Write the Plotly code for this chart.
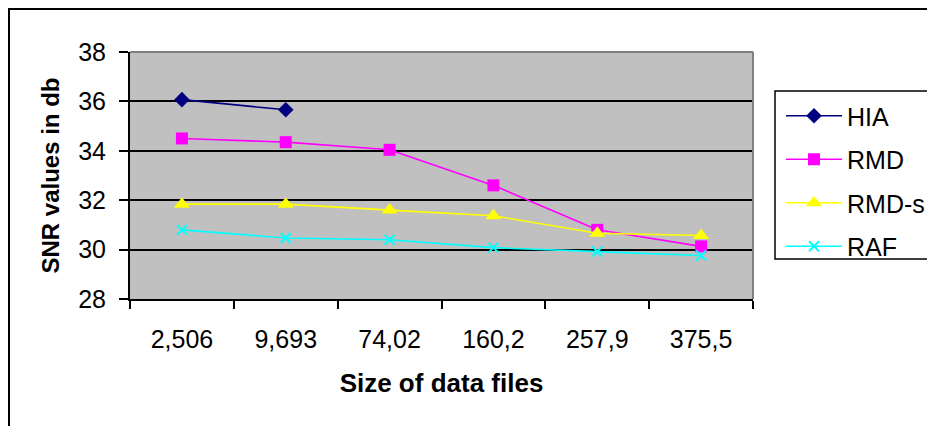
import plotly.graph_objects as go

categories = ["2,506", "9,693", "74,02", "160,2", "257,9", "375,5"]
hia = [36.07, 35.66, None, None, None, None]
rmd = [34.5, 34.35, 34.04, 32.6, 30.8, 30.13]
rmd_s = [31.84, 31.84, 31.6, 31.37, 30.66, 30.57]
raf = [30.8, 30.47, 30.4, 30.08, 29.92, 29.76]

W, H = 927, 426
L, R, T, B = 130, 753, 52, 299

def px(xp):
    return (xp - L) / (R - L)

def py(yp):
    return (B - yp) / (B - T)

FONT = "Liberation Sans, Arial, sans-serif"

fig = go.Figure()
series = [
    ("HIA", hia, "#000080", dict(symbol="diamond", size=12)),
    ("RMD", rmd, "#FF00FF", dict(symbol="square", size=12)),
    ("RMD-s", rmd_s, "#FFFF00", dict(symbol="triangle-up", size=14)),
    ("RAF", raf, "#00FFFF", dict(symbol="x-thin", size=10, line=dict(width=2, color="#00FFFF"))),
]
for name, vals, col, mk in series:
    fig.add_trace(go.Scatter(
        x=categories, y=vals, name=name, mode="lines+markers",
        line=dict(color=col, width=1.6), marker=dict(color=col, **mk),
        legendgroup=name, connectgaps=False,
    ))

shapes = [
    # outer chart border (extends off canvas)
    dict(type="rect", xref="paper", yref="paper", x0=px(9), x1=px(990), y0=py(9), y1=py(500),
         line=dict(color="black", width=2), fillcolor="rgba(0,0,0,0)", layer="below"),
    # plot area gray border top & right
    dict(type="line", xref="paper", yref="paper", x0=0, x1=1, y0=1, y1=1,
         line=dict(color="#808080", width=2)),
    dict(type="line", xref="paper", yref="paper", x0=1, x1=1, y0=0, y1=1,
         line=dict(color="#808080", width=2)),
    # legend box
    dict(type="rect", xref="paper", yref="paper", x0=px(775), x1=px(990), y0=py(91), y1=py(259),
         line=dict(color="black", width=1.5), fillcolor="white", layer="below"),
]

fig.update_layout(
    width=W, height=H,
    margin=dict(l=L, r=W - R, t=T, b=H - B, autoexpand=False),
    paper_bgcolor="white",
    plot_bgcolor="#C0C0C0",
    font=dict(family=FONT, size=25, color="black"),
    showlegend=True,
    legend=dict(
        x=px(781), y=py(93), xanchor="left", yanchor="top",
        bgcolor="rgba(0,0,0,0)", borderwidth=0,
        font=dict(family=FONT, size=25, color="black"),
        tracegroupgap=8, itemwidth=56,
    ),
    shapes=shapes,
    xaxis=dict(
        type="category", tickson="boundaries", ticks="outside", ticklen=8,
        range=[-0.5, len(categories) - 0.5],
        tickcolor="black", tickwidth=1.5,
        showline=True, linecolor="black", linewidth=2,
        showgrid=False, zeroline=False, ticklabelstandoff=17,
        tickfont=dict(family=FONT, size=25, color="black"),
        title=dict(text="<b>Size of data files</b>", font=dict(family=FONT, size=26, color="black"), standoff=22),
    ),
    yaxis=dict(
        range=[28, 38], dtick=2, tick0=28, ticks="outside", ticklen=9,
        tickcolor="black", tickwidth=1.5,
        showline=True, linecolor="black", linewidth=2,
        showgrid=True, gridcolor="black", gridwidth=1.5, zeroline=False,
        ticklabelstandoff=8,
        tickfont=dict(family=FONT, size=25, color="black"),
        title=dict(text="<b>SNR values in db</b>", font=dict(family=FONT, size=24, color="black"), standoff=12),
    ),
)

fig.write_html("out.html")
